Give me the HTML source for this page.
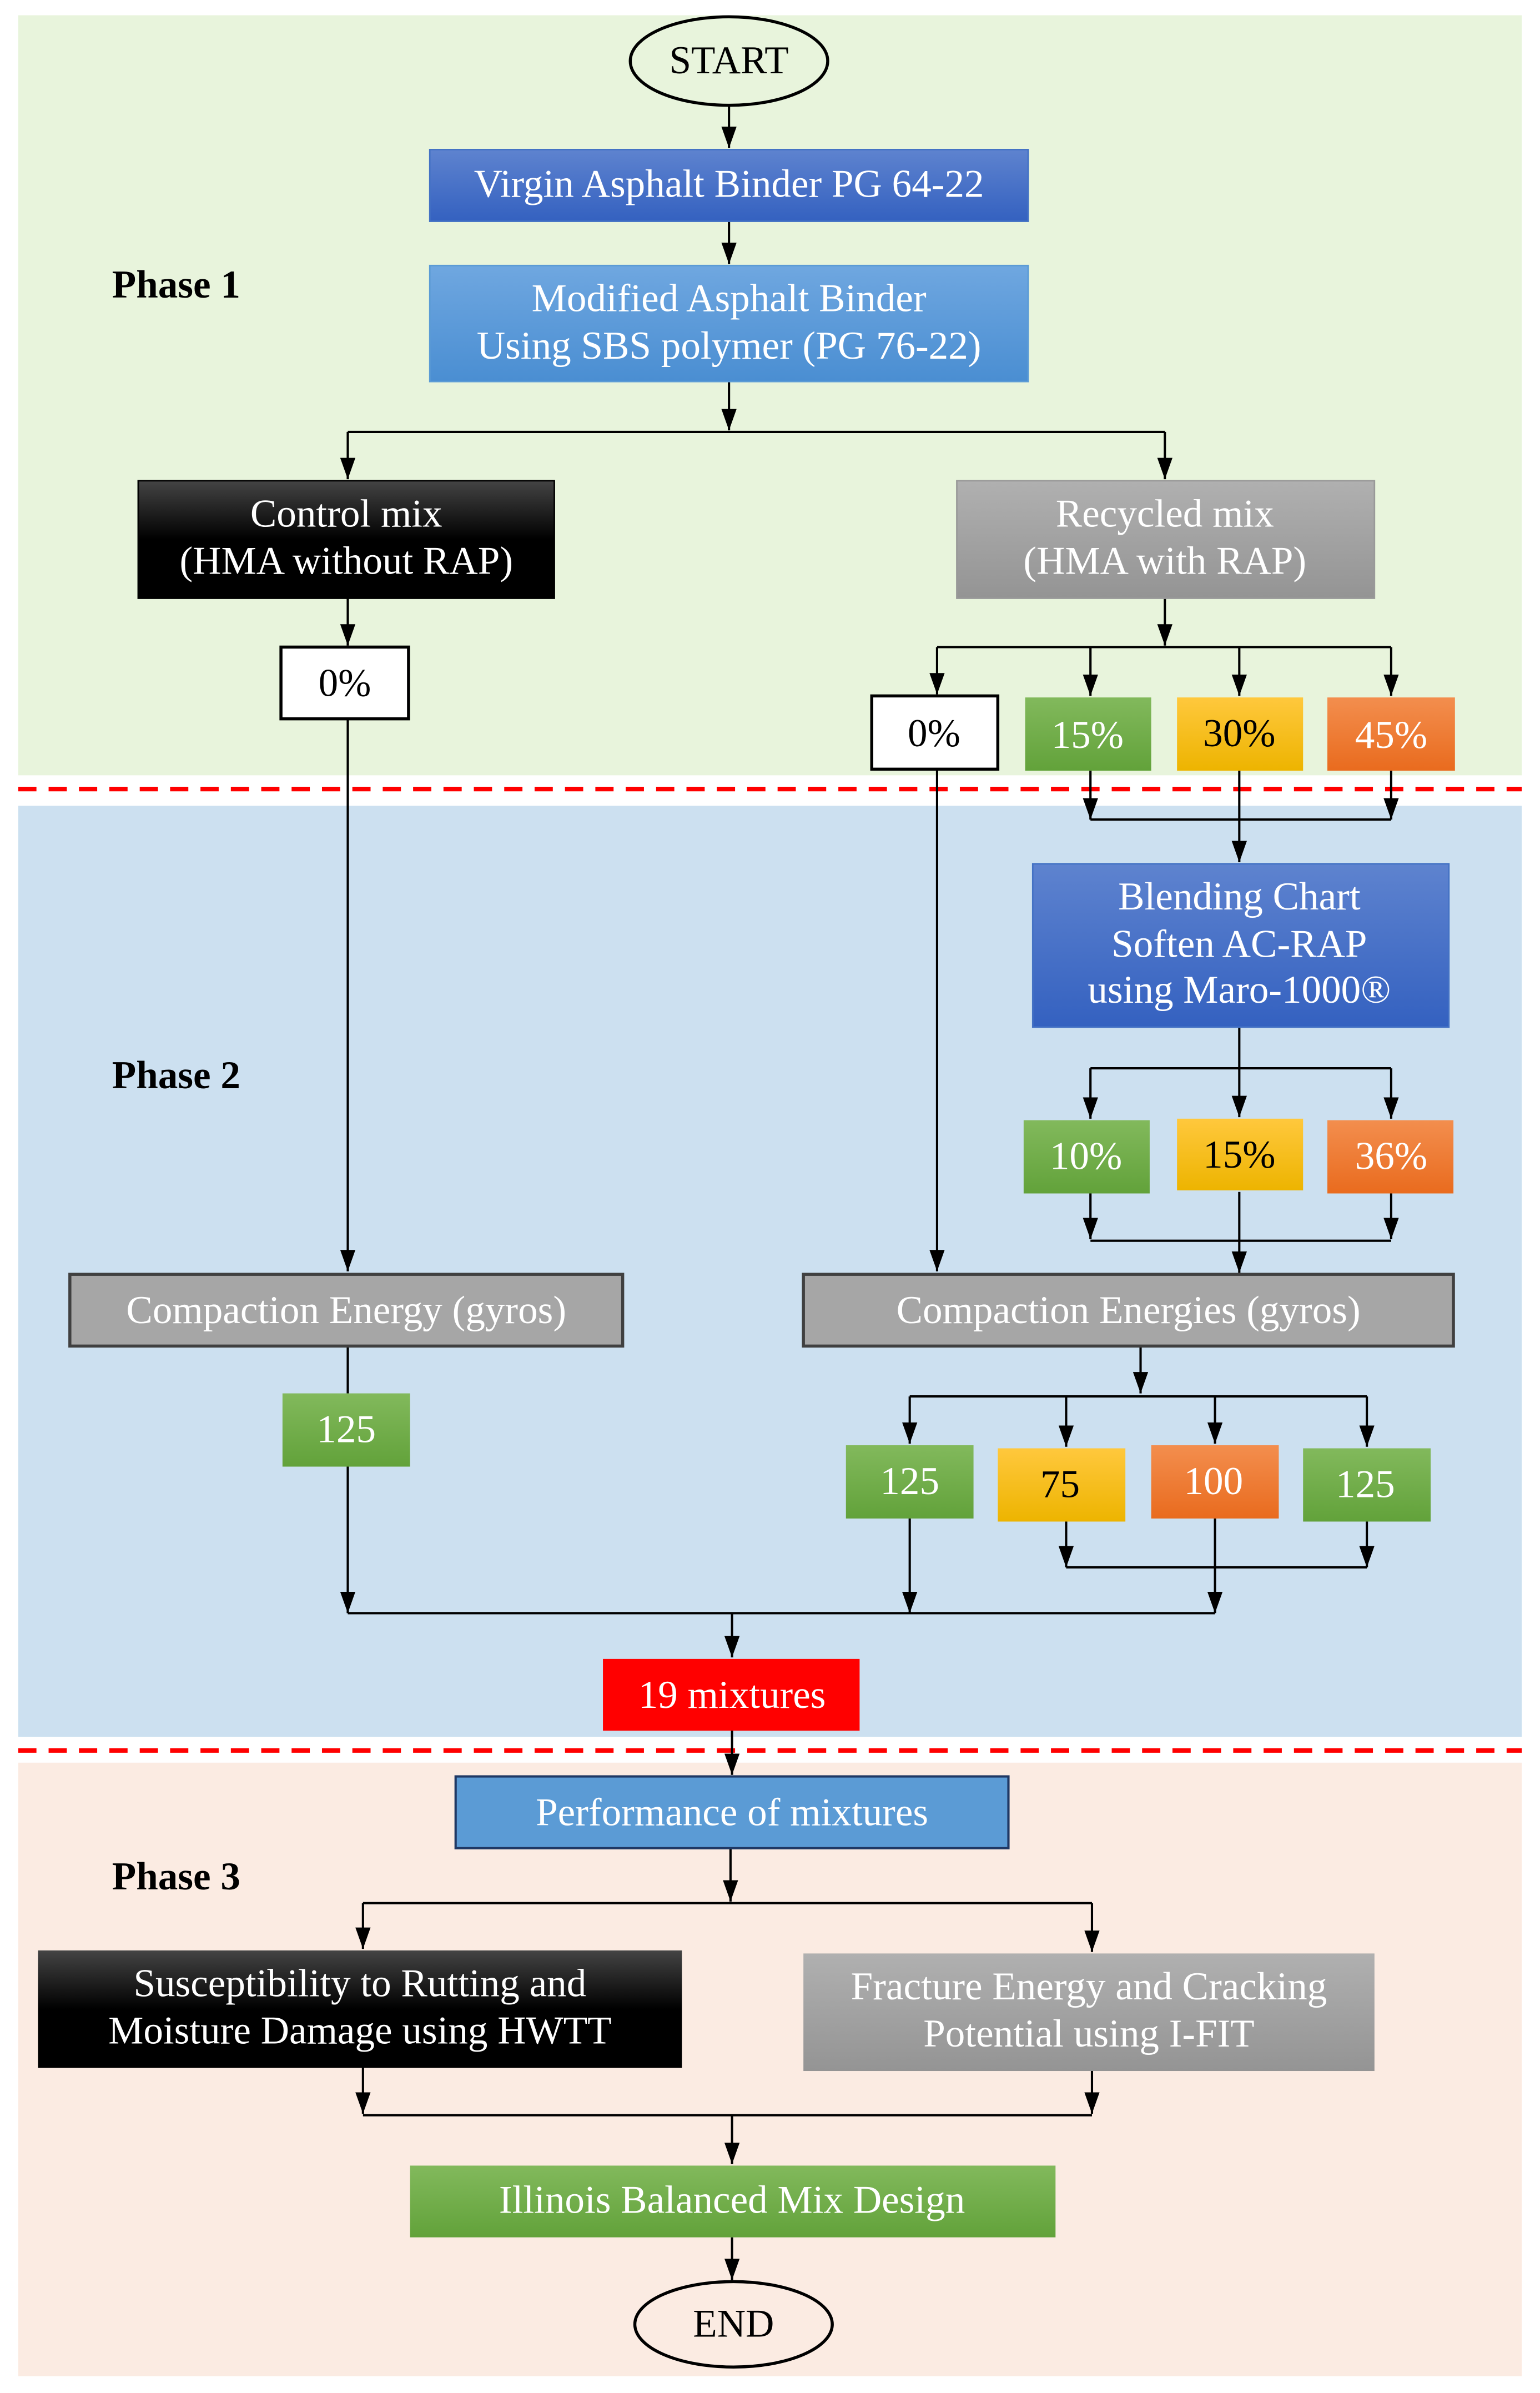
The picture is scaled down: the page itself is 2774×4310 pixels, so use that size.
<!DOCTYPE html>
<html><head><meta charset="utf-8"><style>
html,body{margin:0;padding:0;background:#fff}
svg{display:block}
text{font-family:"Liberation Serif",serif;font-size:26px;text-anchor:middle}
</style></head><body>
<svg width="2774" height="4310" viewBox="0 0 1014 1568" preserveAspectRatio="none" xmlns="http://www.w3.org/2000/svg">
<defs>
<marker id="a" markerWidth="14" markerHeight="10" refX="14" refY="5" orient="auto" markerUnits="userSpaceOnUse" viewBox="0 0 14 10"><path d="M0,0 L14,5 L0,10 Z" fill="#000"/></marker>
<linearGradient id="gB" x1="0" y1="0" x2="0" y2="1"><stop offset="0" stop-color="#5E83CF"/><stop offset="1" stop-color="#3461C0"/></linearGradient>
<linearGradient id="gL" x1="0" y1="0" x2="0" y2="1"><stop offset="0" stop-color="#6FA7E0"/><stop offset="1" stop-color="#4A8ED2"/></linearGradient>
<linearGradient id="gK" x1="0" y1="0" x2="0" y2="1"><stop offset="0" stop-color="#444"/><stop offset="0.5" stop-color="#000"/><stop offset="1" stop-color="#000"/></linearGradient>
<linearGradient id="gG" x1="0" y1="0" x2="0" y2="1"><stop offset="0" stop-color="#B0B0B0"/><stop offset="1" stop-color="#949494"/></linearGradient>
<linearGradient id="gN" x1="0" y1="0" x2="0" y2="1"><stop offset="0" stop-color="#82B95C"/><stop offset="1" stop-color="#62A23A"/></linearGradient>
<linearGradient id="gY" x1="0" y1="0" x2="0" y2="1"><stop offset="0" stop-color="#FFC83D"/><stop offset="1" stop-color="#EDB400"/></linearGradient>
<linearGradient id="gO" x1="0" y1="0" x2="0" y2="1"><stop offset="0" stop-color="#F38E4E"/><stop offset="1" stop-color="#E96B1E"/></linearGradient>
</defs>
<rect x="12" y="10" width="990" height="498" fill="#E8F4DC"/>
<rect x="12" y="528" width="990" height="610" fill="#CCE0F0"/>
<rect x="12" y="1155" width="990" height="402" fill="#FBEBE2"/>
<line x1="12" y1="517" x2="1002" y2="517" stroke="#F00" stroke-width="3" stroke-dasharray="12,8"/>
<line x1="12" y1="1147" x2="1002" y2="1147" stroke="#F00" stroke-width="3" stroke-dasharray="12,8"/>

<text x="116" y="195" style="font-weight:bold">Phase 1</text><text x="116" y="713" style="font-weight:bold">Phase 2</text><text x="116" y="1238" style="font-weight:bold">Phase 3</text>

<g stroke="#000" stroke-width="1.5" fill="none">
<line x1="480" y1="69" x2="480" y2="97" marker-end="url(#a)"/>
<line x1="480" y1="145" x2="480" y2="173" marker-end="url(#a)"/>
<line x1="480" y1="250" x2="480" y2="282" marker-end="url(#a)"/>
<line x1="229" y1="283" x2="767" y2="283"/>
<line x1="229" y1="283" x2="229" y2="314" marker-end="url(#a)"/>
<line x1="767" y1="283" x2="767" y2="314" marker-end="url(#a)"/>
<line x1="229" y1="392" x2="229" y2="423" marker-end="url(#a)"/>
<line x1="229" y1="471" x2="229" y2="833" marker-end="url(#a)"/>
<line x1="767" y1="392" x2="767" y2="423" marker-end="url(#a)"/>
<line x1="617" y1="424" x2="916" y2="424"/>
<line x1="617" y1="424" x2="617" y2="455" marker-end="url(#a)"/>
<line x1="718" y1="424" x2="718" y2="456" marker-end="url(#a)"/>
<line x1="816" y1="424" x2="816" y2="456" marker-end="url(#a)"/>
<line x1="916" y1="424" x2="916" y2="456" marker-end="url(#a)"/>
<line x1="617" y1="504" x2="617" y2="833" marker-end="url(#a)"/>
<line x1="718" y1="505" x2="718" y2="537" marker-end="url(#a)"/>
<line x1="916" y1="505" x2="916" y2="537" marker-end="url(#a)"/>
<line x1="718" y1="537" x2="916" y2="537"/>
<line x1="816" y1="505" x2="816" y2="565" marker-end="url(#a)"/>
<line x1="816" y1="673" x2="816" y2="700"/>
<line x1="718" y1="700" x2="916" y2="700"/>
<line x1="718" y1="700" x2="718" y2="733" marker-end="url(#a)"/>
<line x1="816" y1="700" x2="816" y2="732" marker-end="url(#a)"/>
<line x1="916" y1="700" x2="916" y2="733" marker-end="url(#a)"/>
<line x1="718" y1="782" x2="718" y2="812" marker-end="url(#a)"/>
<line x1="916" y1="782" x2="916" y2="812" marker-end="url(#a)"/>
<line x1="718" y1="813" x2="916" y2="813"/>
<line x1="816" y1="781" x2="816" y2="834" marker-end="url(#a)"/>
<line x1="229" y1="882" x2="229" y2="913"/>
<line x1="229" y1="961" x2="229" y2="1057" marker-end="url(#a)"/>
<line x1="751" y1="882" x2="751" y2="913" marker-end="url(#a)"/>
<line x1="599" y1="915" x2="900" y2="915"/>
<line x1="599" y1="915" x2="599" y2="946" marker-end="url(#a)"/>
<line x1="702" y1="915" x2="702" y2="948" marker-end="url(#a)"/>
<line x1="800" y1="915" x2="800" y2="946" marker-end="url(#a)"/>
<line x1="900" y1="915" x2="900" y2="948" marker-end="url(#a)"/>
<line x1="599" y1="995" x2="599" y2="1057" marker-end="url(#a)"/>
<line x1="800" y1="995" x2="800" y2="1057" marker-end="url(#a)"/>
<line x1="702" y1="997" x2="702" y2="1027" marker-end="url(#a)"/>
<line x1="900" y1="997" x2="900" y2="1027" marker-end="url(#a)"/>
<line x1="702" y1="1027" x2="900" y2="1027"/>
<line x1="229" y1="1057" x2="800" y2="1057"/>
<line x1="482" y1="1057" x2="482" y2="1086" marker-end="url(#a)"/>
<line x1="482" y1="1134" x2="482" y2="1163" marker-end="url(#a)"/>
<line x1="481" y1="1211" x2="481" y2="1246" marker-end="url(#a)"/>
<line x1="239" y1="1247" x2="719" y2="1247"/>
<line x1="239" y1="1247" x2="239" y2="1277" marker-end="url(#a)"/>
<line x1="719" y1="1247" x2="719" y2="1279" marker-end="url(#a)"/>
<line x1="239" y1="1355" x2="239" y2="1385" marker-end="url(#a)"/>
<line x1="719" y1="1357" x2="719" y2="1385" marker-end="url(#a)"/>
<line x1="239" y1="1386" x2="719" y2="1386"/>
<line x1="482" y1="1386" x2="482" y2="1418" marker-end="url(#a)"/>
<line x1="482" y1="1466" x2="482" y2="1494" marker-end="url(#a)"/>
</g>

<ellipse cx="480" cy="40" rx="65" ry="29" fill="none" stroke="#000" stroke-width="2"/>
<text x="480" y="48">START</text>
<ellipse cx="483" cy="1523" rx="65" ry="28" fill="none" stroke="#000" stroke-width="2"/>
<text x="483" y="1531">END</text>

<rect x="283" y="98" width="394" height="47" fill="url(#gB)" stroke="#4472C4"/>
<text x="480" y="129" fill="#fff">Virgin Asphalt Binder PG 64-22</text>
<rect x="283" y="174" width="394" height="76" fill="url(#gL)" stroke="#5B9BD5"/>
<text x="480" y="204" fill="#fff">Modified Asphalt Binder</text>
<text x="480" y="235" fill="#fff">Using SBS polymer (PG 76-22)</text>

<rect x="91" y="315" width="274" height="77" fill="url(#gK)" stroke="#000"/>
<text x="228" y="345" fill="#fff">Control mix</text>
<text x="228" y="376" fill="#fff">(HMA without RAP)</text>
<rect x="630" y="315" width="275" height="77" fill="url(#gG)" stroke="#999"/>
<text x="767" y="345" fill="#fff">Recycled mix</text>
<text x="767" y="376" fill="#fff">(HMA with RAP)</text>

<rect x="185" y="424" width="84" height="47" fill="#fff" stroke="#000" stroke-width="2"/>
<text x="227" y="456">0%</text>
<rect x="574" y="456" width="83" height="48" fill="#fff" stroke="#000" stroke-width="2"/>
<text x="615" y="489">0%</text>
<rect x="675" y="457" width="83" height="48" fill="url(#gN)"/>
<text x="716" y="490" fill="#fff">15%</text>
<rect x="775" y="457" width="83" height="48" fill="url(#gY)"/>
<text x="816" y="489">30%</text>
<rect x="874" y="457" width="84" height="48" fill="url(#gO)"/>
<text x="916" y="490" fill="#fff">45%</text>

<rect x="680" y="566" width="274" height="107" fill="url(#gB)" stroke="#4472C4"/>
<text x="816" y="596" fill="#fff">Blending Chart</text>
<text x="816" y="627" fill="#fff">Soften AC-RAP</text>
<text x="816" y="657" fill="#fff">using Maro-1000®</text>

<rect x="674" y="734" width="83" height="48" fill="url(#gN)"/>
<text x="715" y="766" fill="#fff">10%</text>
<rect x="775" y="733" width="83" height="47" fill="url(#gY)"/>
<text x="816" y="765">15%</text>
<rect x="874" y="734" width="83" height="48" fill="url(#gO)"/>
<text x="916" y="766" fill="#fff">36%</text>

<rect x="46" y="835" width="364" height="47" fill="#A6A6A6" stroke="#404040" stroke-width="2"/>
<text x="228" y="867" fill="#fff">Compaction Energy (gyros)</text>
<rect x="529" y="835" width="428" height="47" fill="#A6A6A6" stroke="#404040" stroke-width="2"/>
<text x="743" y="867" fill="#fff">Compaction Energies (gyros)</text>

<rect x="186" y="913" width="84" height="48" fill="url(#gN)"/>
<text x="228" y="945" fill="#fff">125</text>
<rect x="557" y="947" width="84" height="48" fill="url(#gN)"/>
<text x="599" y="979" fill="#fff">125</text>
<rect x="657" y="949" width="84" height="48" fill="url(#gY)"/>
<text x="698" y="981">75</text>
<rect x="758" y="947" width="84" height="48" fill="url(#gO)"/>
<text x="799" y="979" fill="#fff">100</text>
<rect x="858" y="949" width="84" height="48" fill="url(#gN)"/>
<text x="899" y="981" fill="#fff">125</text>

<rect x="397" y="1087" width="169" height="47" fill="#FF0000"/>
<text x="482" y="1119" fill="#fff">19 mixtures</text>

<rect x="300" y="1164" width="364" height="47" fill="#5B9BD5" stroke="#1F3864" stroke-width="1.5"/>
<text x="482" y="1196" fill="#fff">Performance of mixtures</text>

<rect x="25" y="1278" width="424" height="77" fill="url(#gK)"/>
<text x="237" y="1308" fill="#fff">Susceptibility to Rutting and</text>
<text x="237" y="1339" fill="#fff">Moisture Damage using HWTT</text>
<rect x="529" y="1280" width="376" height="77" fill="url(#gG)"/>
<text x="717" y="1310" fill="#fff">Fracture Energy and Cracking</text>
<text x="717" y="1341" fill="#fff">Potential using I-FIT</text>

<rect x="270" y="1419" width="425" height="47" fill="url(#gN)"/>
<text x="482" y="1450" fill="#fff">Illinois Balanced Mix Design</text>
</svg>
</body></html>
